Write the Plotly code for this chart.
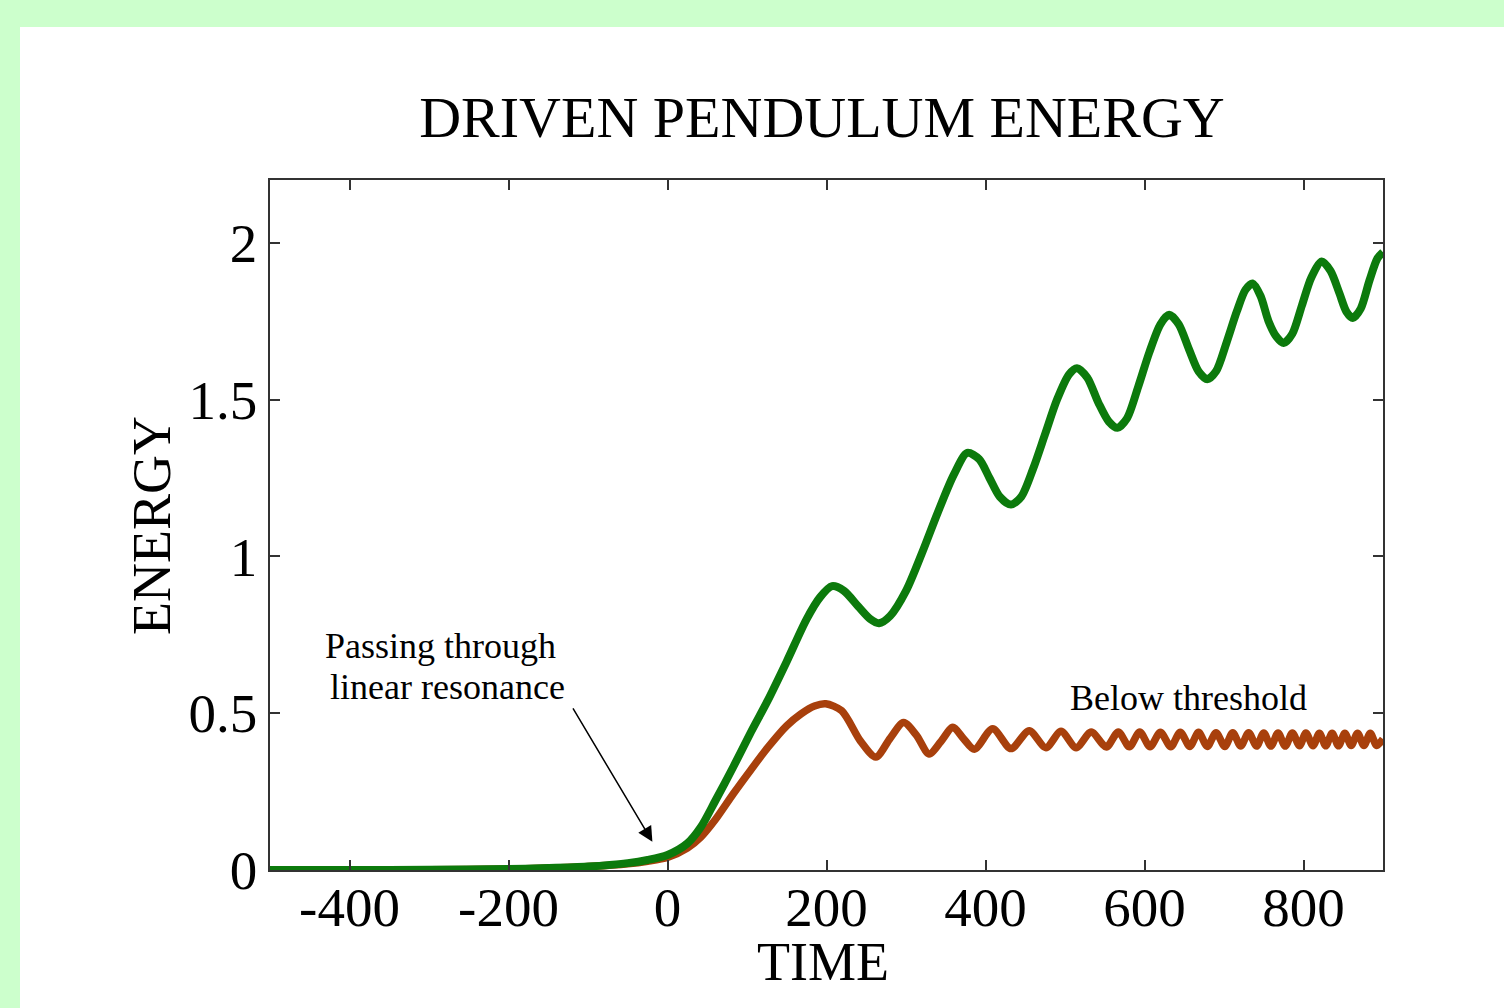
import plotly.graph_objects as go

# ---- data ----
green_time = [-500, -400, -300, -200, -150, -100, -50, -25, 0, 25, 42, 60, 83, 105, 126, 150, 175, 192, 207,
              222, 240, 255, 266, 280, 300, 320, 340, 360, 377, 392, 405, 418, 432, 445, 460, 475, 490,
              505, 515, 528, 542, 555, 566, 578, 592, 606, 620, 631, 643, 656, 668, 679, 690, 703, 716,
              727, 736, 746, 756, 766, 775, 786, 798, 810, 823, 834, 845, 854, 862, 872, 883, 893, 900]
green_energy = [0.0, 0.0, 0.001, 0.003, 0.006, 0.011, 0.022, 0.032, 0.048, 0.085, 0.137, 0.22, 0.33, 0.44,
                0.54, 0.665, 0.8, 0.87, 0.905, 0.89, 0.84, 0.80, 0.787, 0.81, 0.89, 1.01, 1.14, 1.26, 1.33,
                1.31, 1.25, 1.19, 1.165, 1.19, 1.28, 1.39, 1.50, 1.58, 1.60, 1.57, 1.49, 1.43, 1.41, 1.44,
                1.54, 1.65, 1.74, 1.77, 1.74, 1.66, 1.59, 1.565, 1.59, 1.68, 1.78, 1.85, 1.87, 1.83, 1.75,
                1.70, 1.68, 1.71, 1.80, 1.89, 1.94, 1.91, 1.84, 1.78, 1.76, 1.79, 1.88, 1.95, 1.97]

brown_time = [-500, -400, -300, -200, -150, -100, -50, -25, 0, 25, 42, 60, 83, 105, 126, 150, 168, 185, 199,
              219, 243, 262, 280, 297, 313, 329, 344, 359, 372, 386, 409, 432, 455, 476, 495, 514, 533, 552,
              567, 581, 594, 607, 620, 633, 645, 657, 668, 679, 690, 701, 711, 721, 731, 741, 750, 759,
              768, 777, 786, 795, 803, 812, 820, 828, 836, 844, 852, 860, 868, 876, 884, 892, 900]
brown_energy = [0.0, 0.0, 0.001, 0.003, 0.006, 0.011, 0.02, 0.028, 0.04, 0.07, 0.105, 0.16, 0.244, 0.32, 0.39,
                0.46, 0.498, 0.523, 0.53, 0.508, 0.41, 0.36, 0.42, 0.47, 0.43, 0.37, 0.41, 0.455, 0.42, 0.385,
                0.45, 0.387, 0.444, 0.39, 0.442, 0.39, 0.44, 0.392, 0.44, 0.393, 0.44, 0.393, 0.439, 0.393,
                0.439, 0.394, 0.439, 0.394, 0.438, 0.394, 0.438, 0.395, 0.438, 0.395, 0.437, 0.395, 0.437,
                0.395, 0.437, 0.396, 0.437, 0.396, 0.436, 0.396, 0.436, 0.396, 0.436, 0.397, 0.436, 0.397,
                0.436, 0.397, 0.418]

x_ticks = [-400, -200, 0, 200, 400, 600, 800]
x_tick_labels = ["-400", "-200", "0", "200", "400", "600", "800"]
y_ticks = [0, 0.5, 1, 1.5, 2]
y_tick_labels = ["0", "0.5", "1", "1.5", "2"]

title_text = "DRIVEN PENDULUM ENERGY"
x_title = "TIME"
y_title = "ENERGY"

FONT = "Liberation Serif, Times New Roman, serif"
GREEN = "#0c7a0c"
BROWN = "#a8400c"

fig = go.Figure()
fig.add_trace(go.Scatter(x=brown_time, y=brown_energy, mode="lines",
                         line=dict(color=BROWN, width=7.5, shape="spline", smoothing=0.8),
                         showlegend=False, hoverinfo="skip"))
fig.add_trace(go.Scatter(x=green_time, y=green_energy, mode="lines",
                         line=dict(color=GREEN, width=8, shape="spline", smoothing=0.8),
                         showlegend=False, hoverinfo="skip"))

L, R, T, B = 270, 1504 - 1383, 180, 1008 - 870
PW, PH = 1383 - 270, 870 - 180

# white panel over green page background
fig.add_shape(type="rect", xref="paper", yref="paper",
              x0=(20 - L) / PW, x1=(1504 - L) / PW + 0.05,
              y0=(870 - 1008) / PH - 0.05, y1=(870 - 27) / PH,
              fillcolor="white", line=dict(width=0), layer="below")

axis_common = dict(showline=True, linecolor="#333333", linewidth=1.5, mirror="ticks",
                   ticks="inside", ticklen=10, tickwidth=1.5, tickcolor="#333333",
                   showgrid=False, zeroline=False,
                   tickfont=dict(family=FONT, size=55, color="black"))

fig.update_layout(
    width=1504, height=1008,
    margin=dict(l=L, r=R, t=T, b=B),
    paper_bgcolor="#ccffcc", plot_bgcolor="white",
    title=dict(text=title_text, font=dict(family=FONT, size=58, color="black"),
               x=(822 - L) / PW, xref="paper", xanchor="center",
               y=1 - 117 / 1008, yref="container", yanchor="middle"),
    xaxis=dict(range=[-500, 900], tickvals=x_ticks, ticktext=x_tick_labels,
               ticklabelstandoff=-12, **axis_common),
    yaxis=dict(range=[0, 2.2], tickvals=y_ticks, ticktext=y_tick_labels, **axis_common),
    showlegend=False,
)

# axis titles
fig.add_annotation(x=(823 - L) / PW, y=(870 - 962) / PH, xref="paper", yref="paper", text=x_title,
                   showarrow=False, xanchor="center", yanchor="middle",
                   font=dict(family=FONT, size=54, color="black"))
fig.add_annotation(x=(152 - L) / PW, y=(870 - 526) / PH, xref="paper", yref="paper", text=y_title,
                   showarrow=False, xanchor="center", yanchor="middle", textangle=-90,
                   font=dict(family=FONT, size=54, color="black"))

fig.add_annotation(x=-19, y=0.09, ax=-120, ay=0.52, xref="x", yref="y", axref="x", ayref="y",
                   text="", showarrow=True, arrowhead=2, arrowsize=2.0, arrowwidth=1.5,
                   arrowcolor="black", standoff=0)
fig.add_annotation(x=-433, y=0.714, xref="x", yref="y", text="Passing through", showarrow=False,
                   xanchor="left", yanchor="middle", font=dict(family=FONT, size=36, color="black"))
fig.add_annotation(x=-427, y=0.584, xref="x", yref="y", text="linear resonance", showarrow=False,
                   xanchor="left", yanchor="middle", font=dict(family=FONT, size=36, color="black"))
fig.add_annotation(x=504, y=0.549, xref="x", yref="y", text="Below threshold", showarrow=False,
                   xanchor="left", yanchor="middle", font=dict(family=FONT, size=36, color="black"))

fig.write_html("out.html")
